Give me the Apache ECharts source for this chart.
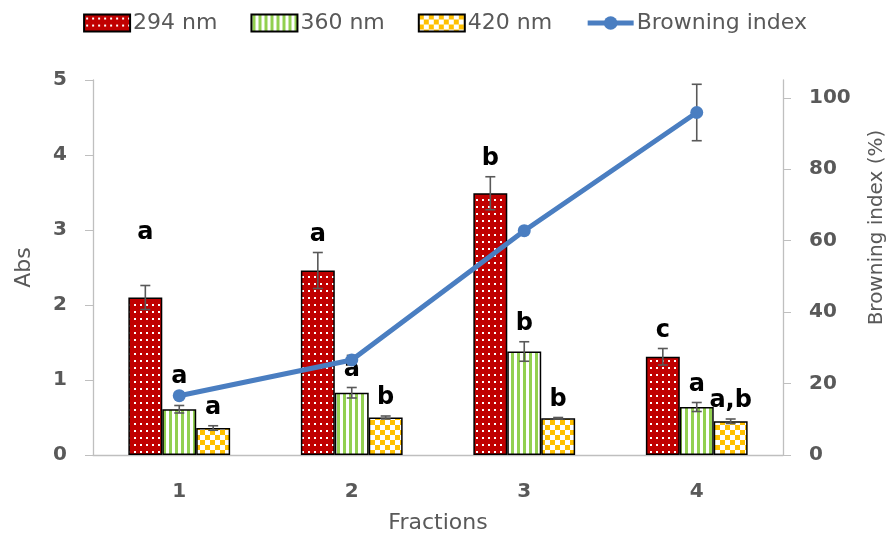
<!DOCTYPE html>
<html>
<head>
<meta charset="utf-8">
<script src="https://cdn.jsdelivr.net/npm/echarts@6/dist/echarts.min.js"></script>
<style>html,body{margin:0;padding:0;background:#fff}#c{width:890px;height:538px}</style>
</head>
<body>
<div id="c"></div>
<script>
// ---- data ----
const categories = ['1', '2', '3', '4'];
const abs294 = [2.10, 2.46, 3.49, 1.31];
const err294 = [0.16, 0.24, 0.22, 0.11];
const abs360 = [0.61, 0.83, 1.38, 0.64];
const err360 = [0.05, 0.07, 0.13, 0.06];
const abs420 = [0.36, 0.50, 0.49, 0.45];
const err420 = [0.03, 0.02, 0.01, 0.03];
const browning = [16.6, 26.6, 62.8, 95.9];
const errBrowning = [0.8, 1.3, 0.8, 7.9];
const letters294 = ['a', 'a', 'b', 'c'];
const letters360 = ['a', 'a', 'b', 'a'];
const letters420 = ['a', 'b', 'b', 'a,b'];
const leftTicks = [0, 1, 2, 3, 4, 5];
const rightTicks = [0, 20, 40, 60, 80, 100];

// ---- styling helpers ----
const FONT = '"DejaVu Sans", sans-serif';
const GRAY = '#595959';
const AXIS = '#BFBFBF';
const CAT_GAP = 0.41;
// extra lift (px) for some letters (key: dataIndex-seriesIndex)
const letterLift = { '0-0': 35, '0-1': 11 };

function tile(w, h, draw) {
  const c = document.createElement('canvas');
  c.width = w; c.height = h;
  draw(c.getContext('2d'));
  return c;
}
const dotPat = tile(6, 7, g => {
  g.fillStyle = '#C00000'; g.fillRect(0, 0, 6, 7);
  g.fillStyle = '#ffffff'; g.fillRect(2, 3, 2, 2);
});
const stripePat = tile(6, 4, g => {
  g.fillStyle = '#ffffff'; g.fillRect(0, 0, 6, 4);
  g.fillStyle = '#92D050'; g.fillRect(1, 0, 3, 4);
});
const checkPat = tile(10, 10, g => {
  g.fillStyle = '#ffffff'; g.fillRect(0, 0, 10, 10);
  g.fillStyle = '#FFC000'; g.fillRect(0, 0, 5, 5); g.fillRect(5, 5, 5, 5);
});

function barSeries(name, vals, pat) {
  return {
    name: name, type: 'bar', data: vals,
    barGap: '0%', barCategoryGap: (CAT_GAP * 100) + '%',
    itemStyle: { color: { image: pat, repeat: 'repeat' }, borderColor: '#000', borderWidth: 1.5 },
    z: 2
  };
}

function errSeries(vals, errs, letters, k, nBars, yAxisIndex, sIdx) {
  return {
    type: 'custom', yAxisIndex: yAxisIndex, z: yAxisIndex ? 3 : 4, silent: true,
    data: vals.map((v, i) => [i, v, errs[i]]),
    encode: { x: 0, y: 1 },
    renderItem: function (params, api) {
      const i = api.value(0), v = api.value(1), e = api.value(2);
      const band = api.size([1, 0])[0];
      const bw = nBars > 1 ? band * (1 - CAT_GAP) / nBars : 0;
      const cx = api.coord([i, v])[0] + (k - (nBars - 1) / 2) * bw;
      const yt = api.coord([i, v + e])[1];
      const yb = api.coord([i, v - e])[1];
      const cap = 5;
      const st = { stroke: GRAY, lineWidth: 1.6 };
      const children = [
        { type: 'line', shape: { x1: cx, y1: yt, x2: cx, y2: yb }, style: st },
        { type: 'line', shape: { x1: cx - cap, y1: yt, x2: cx + cap, y2: yt }, style: st },
        { type: 'line', shape: { x1: cx - cap, y1: yb, x2: cx + cap, y2: yb }, style: st }
      ];
      if (letters) {
        const lift = letterLift[params.dataIndex + '-' + sIdx] || 0;
        children.push({
          type: 'text',
          style: {
            text: letters[params.dataIndex], x: cx, y: yt - 18 - lift,
            fill: '#000', font: 'bold 24px ' + FONT, align: 'center', verticalAlign: 'middle'
          }
        });
      }
      return { type: 'group', children: children };
    }
  };
}

const chart = echarts.init(document.getElementById('c'));
chart.setOption({
  animation: false,
  backgroundColor: '#fff',
  legend: {
    data: [
      { name: '294 nm', icon: 'rect' },
      { name: '360 nm', icon: 'rect' },
      { name: '420 nm', icon: 'rect' },
      { name: 'Browning index', lineStyle: { width: 5 } }
    ],
    top: 7, left: 'center',
    itemWidth: 46, itemHeight: 17, itemGap: 33,
    textStyle: { fontFamily: FONT, fontSize: 22, color: GRAY, padding: [0, 0, 0, -2] }
  },
  grid: { left: 93, right: 107, top: 80, bottom: 83, outerBoundsMode: 'none', containLabel: false },
  xAxis: {
    type: 'category', data: categories,
    axisLine: { lineStyle: { color: AXIS, width: 1.3 } },
    axisTick: { show: false },
    axisLabel: { fontFamily: FONT, fontSize: 20, fontWeight: 'bold', color: GRAY, margin: 27 },
    name: 'Fractions', nameLocation: 'middle', nameGap: 57,
    nameTextStyle: { fontFamily: FONT, fontSize: 22, color: GRAY }
  },
  yAxis: [{
    type: 'value', min: 0, max: 5, interval: 1,
    axisLine: { show: true, lineStyle: { color: AXIS, width: 1.3 } },
    axisTick: { show: true, inside: false, length: 8, lineStyle: { color: AXIS } },
    splitLine: { show: false },
    axisLabel: { fontFamily: FONT, fontSize: 20, fontWeight: 'bold', color: GRAY, margin: 26,
      formatter: v => leftTicks.includes(v) ? String(v) : '' },
    name: 'Abs', nameLocation: 'middle', nameGap: 58,
    nameTextStyle: { fontFamily: FONT, fontSize: 22, color: GRAY }
  }, {
    type: 'value', min: 0, max: 105, interval: 20, position: 'right',
    axisLine: { show: true, lineStyle: { color: AXIS, width: 1.3 } },
    axisTick: { show: true, inside: false, length: 8, lineStyle: { color: AXIS }, customValues: rightTicks },
    splitLine: { show: false },
    axisLabel: { fontFamily: FONT, fontSize: 20, fontWeight: 'bold', color: GRAY, margin: 26,
      customValues: rightTicks, formatter: v => rightTicks.includes(v) ? String(v) : '' },
    name: 'Browning index (%)', nameLocation: 'middle', nameGap: 84,
    nameTextStyle: { fontFamily: FONT, fontSize: 20, color: GRAY, padding: [0, 0, 0, 80] }
  }],
  series: [
    barSeries('294 nm', abs294, dotPat),
    barSeries('360 nm', abs360, stripePat),
    barSeries('420 nm', abs420, checkPat),
    errSeries(abs294, err294, letters294, 0, 3, 0, 0),
    errSeries(abs360, err360, letters360, 1, 3, 0, 1),
    errSeries(abs420, err420, letters420, 2, 3, 0, 2),
    errSeries(browning, errBrowning, null, 0, 1, 1, 3),
    {
      name: 'Browning index', type: 'line', yAxisIndex: 1, data: browning,
      symbol: 'circle', symbolSize: 13,
      lineStyle: { color: '#4A7EC1', width: 5 },
      itemStyle: { color: '#4A7EC1' },
      z: 5
    }
  ]
});
</script>
</body>
</html>
